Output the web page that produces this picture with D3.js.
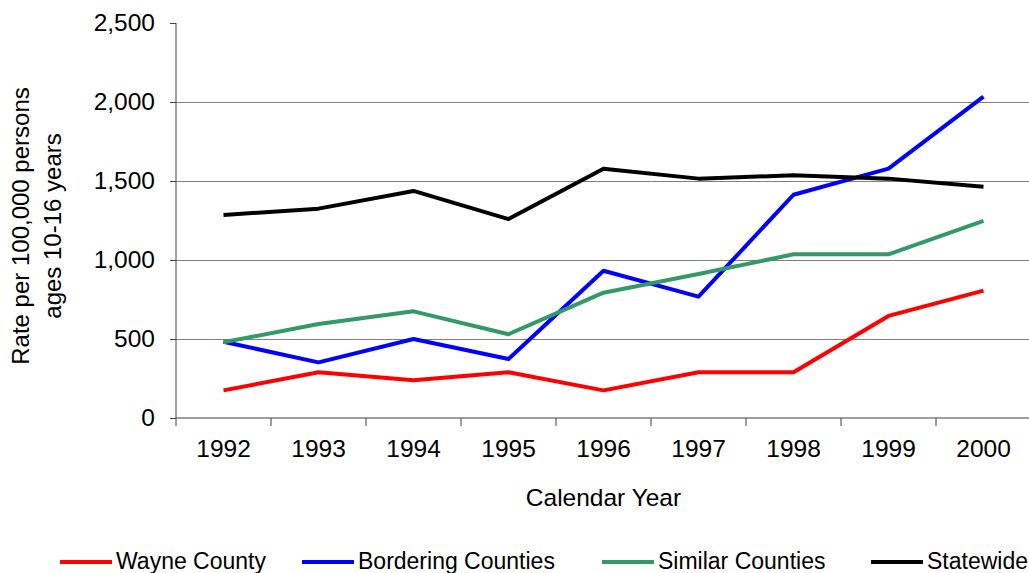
<!DOCTYPE html>
<html>
<head>
<meta charset="utf-8">
<script src="https://cdn.jsdelivr.net/npm/d3@7"></script>
<style>
  body { margin: 0; background: #fff; }
  svg { display: block; font-family: "Liberation Sans", Arial, sans-serif; }
  .axis path, .axis line { stroke: #404040; }
  .axis text { font-size: 24.5px; fill: #000; }
  .grid line { stroke: #808080; }
  .grid path { display: none; }
</style>
</head>
<body>
<svg id="svg" width="1029" height="573"></svg>
<script>
var years = ['1992','1993','1994','1995','1996','1997','1998','1999','2000'];
var wayne      = [175, 289, 239, 289, 175, 289, 289, 646, 806];
var bordering  = [483, 352, 500, 373, 932, 768, 1413, 1578, 2034];
var similar    = [479, 595, 675, 530, 793, 911, 1036, 1036, 1247];
var statewide  = [1285, 1325, 1437, 1259, 1578, 1515, 1536, 1515, 1464];
var seriesNames = ['Wayne County','Bordering Counties','Similar Counties','Statewide'];
var yTicks = [0, 500, 1000, 1500, 2000, 2500];

var series = [
    {name: seriesNames[0], values: wayne,     color: '#ff0000'},
    {name: seriesNames[1], values: bordering, color: '#0000ff'},
    {name: seriesNames[2], values: similar,   color: '#339966'},
    {name: seriesNames[3], values: statewide, color: '#000000'}
];

var svg = d3.select("#svg");
var padding = {top: 23, left: 176, bottom: 418, right: 1031};

var xScale = d3.scaleBand()
    .domain(years)
    .range([padding.left, padding.right])
    .padding(0);

var yScale = d3.scaleLinear()
    .domain([0, 2500])
    .range([padding.bottom, padding.top]);

// gridlines
svg.append("g")
    .attr("class", "grid")
    .attr("transform", "translate(" + padding.left + ",0)")
    .call(d3.axisLeft(yScale)
        .tickValues(yTicks.slice(1, -1))
        .tickSize(-(1029 - padding.left))
        .tickFormat(""));

// y axis
svg.append("g")
    .attr("class", "axis yAxis")
    .attr("transform", "translate(" + padding.left + ",0)")
    .call(d3.axisLeft(yScale)
        .tickValues(yTicks)
        .tickSize(6)
        .tickPadding(15)
        .tickFormat(d3.format(",")))
    .call(function(g) { g.select(".domain").attr("d", "M0," + padding.top + "V" + padding.bottom); });

// x axis: labels at centres, ticks at band edges
var xAxis = svg.append("g")
    .attr("class", "axis xAxis")
    .attr("transform", "translate(0," + padding.bottom + ")")
    .call(d3.axisBottom(xScale).tickSize(0).tickPadding(22));
xAxis.select(".domain").attr("d", "M" + padding.left + ",0H1029");
xAxis.selectAll(".edge")
    .data(years.concat(['end']))
    .enter().append("line")
    .attr("class", "edge")
    .attr("x1", function(d, i) { return padding.left + i * xScale.bandwidth(); })
    .attr("x2", function(d, i) { return padding.left + i * xScale.bandwidth(); })
    .attr("y1", 0)
    .attr("y2", 8);

// lines
var line = d3.line()
    .x(function(d, i) { return xScale(years[i]) + xScale.bandwidth() / 2; })
    .y(function(d) { return yScale(d); });

svg.append("g").selectAll("path")
    .data(series)
    .enter().append("path")
    .attr("d", function(d) { return line(d.values); })
    .attr("fill", "none")
    .attr("stroke", function(d) { return d.color; })
    .attr("stroke-width", 4)
    .attr("stroke-linejoin", "round");

// axis titles
svg.append("text")
    .attr("x", (padding.left + padding.right) / 2)
    .attr("y", 506)
    .attr("text-anchor", "middle")
    .style("font-size", "24.5px")
    .text("Calendar Year");

var yTitle = svg.append("text")
    .attr("transform", "translate(0,226) rotate(-90)")
    .attr("text-anchor", "middle")
    .style("font-size", "24px");
yTitle.append("tspan").attr("x", 0).attr("y", 29).text("Rate per 100,000 persons");
yTitle.append("tspan").attr("x", 0).attr("y", 61).text("ages 10-16 years");

// legend
var legendX = [60, 302, 602, 871];
var legend = svg.append("g");
series.forEach(function(s, i) {
    legend.append("line")
        .attr("x1", legendX[i]).attr("x2", legendX[i] + 52)
        .attr("y1", 562).attr("y2", 562)
        .attr("stroke", s.color)
        .attr("stroke-width", 4);
    legend.append("text")
        .attr("x", legendX[i] + 56)
        .attr("y", 569)
        .style("font-size", "23px")
        .text(s.name);
});
</script>
</body>
</html>
